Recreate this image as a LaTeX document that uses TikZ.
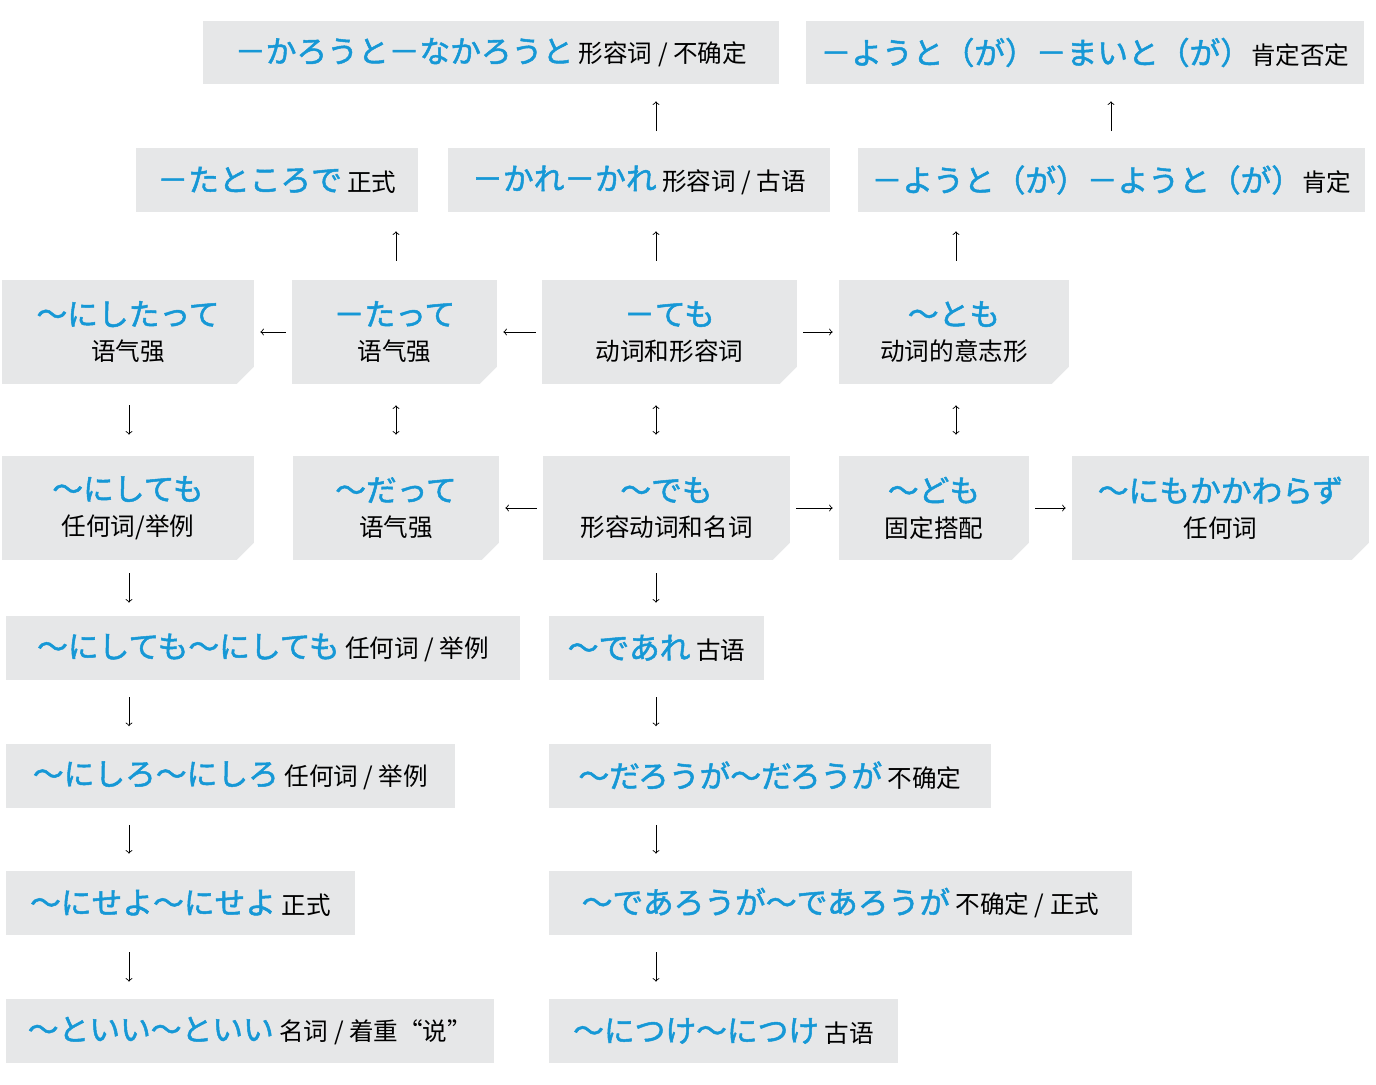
\documentclass[tikz,border=0pt]{standalone}
\usepackage{fontspec}
\newfontfamily\jpfont[FakeBold=1.6]{Noto Sans CJK JP}
\newfontfamily\zhfont{Noto Sans CJK SC}
\definecolor{boxgray}{RGB}{230,231,232}
\definecolor{kana}{RGB}{22,152,214}
\newcommand\jp[1]{{\jpfont\fontsize{17.5}{22}\selectfont\color{kana}#1}}
\newcommand\cutsize{0.34cm}

\begin{document}
\begin{tikzpicture} [x=0.02cm, y=-0.02cm, >=to,
    box/.style={fill=boxgray, inner sep=0pt, minimum height=1.28cm, font=\zhfont\fontsize{14}{20}\selectfont},
    cutbox/.style={box, minimum height=2.08cm, align=center,
        path picture={\fill[white] ([xshift=-\cutsize]path picture bounding box.south east) -- (path picture bounding box.south east) -- ([yshift=\cutsize]path picture bounding box.south east) -- cycle;}},
    conn/.style={->, line width=0.5pt, shorten >=#1, shorten <=#1},
    conn/.default=0.12cm]
    \useasboundingbox (0,0) rectangle (1376,1085);

    % top rows
    \node[box, minimum width=11.52cm] (A1) at (491,52.5) {\jp{－かろうと－なかろうと} 形容词 / 不确定};
    \node[box, minimum width=11.16cm] (A2) at (1085,52.5) {\jp{－ようと（が）－まいと（が）}肯定否定};
    \node[box, minimum width=5.64cm] (B1) at (277,180) {\jp{－たところで} 正式};
    \node[box, minimum width=7.64cm] (B2) at (639,180) {\jp{－かれ－かれ} 形容词 / 古语};
    \node[box, minimum width=10.14cm] (B3) at (1111.5,180) {\jp{－ようと（が）－ようと（が）}肯定};

    \node[cutbox, minimum width=5.04cm] (C1) at (128,332) {\jp{～にしたって}\\语气强};
    \node[cutbox, minimum width=4.1cm] (C2) at (394.5,332) {\jp{－たって}\\语气强};
    \node[cutbox, minimum width=5.1cm] (C3) at (669.5,332) {\jp{－ても}\\动词和形容词};
    \node[cutbox, minimum width=4.6cm] (C4) at (954,332) {\jp{～とも}\\动词的意志形};

    \node[cutbox, minimum width=5.04cm] (D1) at (128,508) {\jp{～にしても}\\任何词/举例};
    \node[cutbox, minimum width=4.12cm] (D2) at (396,508) {\jp{～だって}\\语气强};
    \node[cutbox, minimum width=4.94cm] (D3) at (666.5,508) {\jp{～でも}\\形容动词和名词};
    \node[cutbox, minimum width=3.8cm] (D4) at (934,508) {\jp{～ども}\\固定搭配};
    \node[cutbox, minimum width=5.94cm] (D5) at (1220.5,508) {\jp{～にもかかわらず}\\任何词};

    % two columns below
    \node[box, minimum width=10.28cm] (E1) at (263,648) {\jp{～にしても～にしても} 任何词 / 举例};
    \node[box, minimum width=8.98cm] (F1) at (230.5,775.5) {\jp{～にしろ～にしろ} 任何词 / 举例};
    \node[box, minimum width=6.98cm] (G1) at (180.5,903) {\jp{～にせよ～にせよ} 正式};
    \node[box, minimum width=9.76cm] (H1) at (250,1031) {\jp{～といい～といい} 名词 / 着重“说”};

    \node[box, minimum width=4.3cm] (E2) at (656.5,648) {\jp{～であれ} 古语};
    \node[box, minimum width=8.84cm] (F2) at (770,775.5) {\jp{～だろうが～だろうが} 不确定};
    \node[box, minimum width=11.66cm] (G2) at (840.5,903) {\jp{～であろうが～であろうが} 不确定 / 正式};
    \node[box, minimum width=6.98cm] (H2) at (723.5,1031) {\jp{～につけ～につけ} 古语};

    \coordinate (colL) at (129,0);
    \coordinate (colA) at (396,0);
    \coordinate (colM) at (656,0);
    \coordinate (colB) at (956,0);
    \coordinate (colR) at (1111,0);

    \draw[conn=0.33cm] (B2.north -| colM) -- (A1.south -| colM);
    \draw[conn=0.33cm] (B3.north -| colR) -- (A2.south -| colR);
    \draw[conn=0.38cm] (C2.north -| colA) -- (B1.south -| colA);
    \draw[conn=0.38cm] (C3.north -| colM) -- (B2.south -| colM);
    \draw[conn=0.38cm] (C4.north -| colB) -- (B3.south -| colB);

    \draw[conn] (C2) -- (C1);
    \draw[conn] (C3) -- (C2);
    \draw[conn] (C3) -- (C4);
    \draw[conn] (D3) -- (D2);
    \draw[conn] (D3) -- (D4);
    \draw[conn] (D4) -- (D5);

    \draw[conn=0.42cm] (C1.south -| colL) -- (D1.north -| colL);
    \foreach \a/\b/\c in {C2/D2/colA, C3/D3/colM, C4/D4/colB}
        \draw[conn=0.42cm, <->] (\a.south -| \c) -- (\b.north -| \c);

    \draw[conn=0.26cm] (D1.south -| colL) -- (E1.north -| colL);
    \draw[conn=0.26cm] (D3.south -| colM) -- (E2.north -| colM);
    \foreach \a/\b/\c in {E1/F1/colL, F1/G1/colL, G1/H1/colL, E2/F2/colM, F2/G2/colM, G2/H2/colM}
        \draw[conn=0.34cm] (\a.south -| \c) -- (\b.north -| \c);
\end{tikzpicture}
\end{document}
